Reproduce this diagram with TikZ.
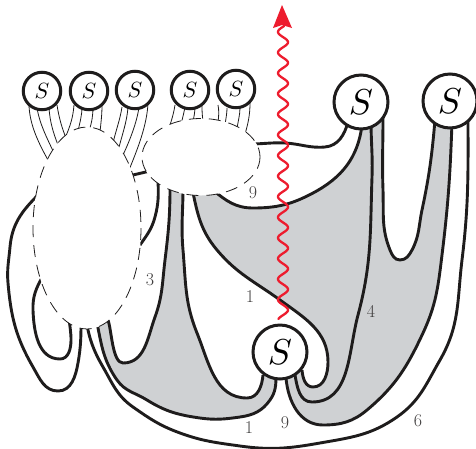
\documentclass[tikz,border=0pt]{standalone}
\usepackage{graphicx}
\definecolor{gr}{RGB}{207,209,211}
\definecolor{rd}{RGB}{237,28,46}
\definecolor{ink}{RGB}{30,28,28}
\newcommand{\smallS}{\scalebox{2.2}{$S$}}
\newcommand{\bigS}{\scalebox{3.6}{$S$}}
\tikzset{x=1pt,y=-1pt,
 thick line/.style={draw=ink,line width=2.9pt},
 thin line/.style={draw=ink,line width=0.8pt},
 dash ell/.style={draw=ink,fill=white,line width=0.8pt,dash pattern=on 12pt off 8pt},
 sball/.style={circle,draw=ink,fill=white,line width=3pt,inner sep=0pt,outer sep=0pt},
 small ball/.style={sball,minimum size=37.5pt},
 big ball/.style={sball,minimum size=54pt},
 lab/.style={text=ink!85,font=\fontsize{18}{20}\selectfont,inner sep=0pt}}
\def\cA{(192,188) to[out=-78,in=130] (217,250) to[out=-50,in=144] (280,300) to[out=-36,in=90] (328,362) to[out=-90,in=0] (313,387) to[out=180,in=-85] (302,370)}
\def\cB{(362,125) to[out=-97,in=28] (313,193) to[out=-152,in=0] (253,208) to[out=180,in=-40] (213,190)}
\def\cD{(295,375) to[out=-80,in=180] (312,402) to[out=0,in=-105] (358,315) to[out=75,in=-92] (372,177) to[out=88,in=-90] (371,120)}
\def\cU{(383,118) to[out=-90,in=92] (383,190) to[out=-88,in=112] (390,250) to[out=-68,in=180] (400,260) to[out=0,in=-118] (412,250) to[out=62,in=-102] (422,210) to[out=78,in=-95] (435,120)}
\def\cE{(452,122) to[out=-92,in=83] (442,255) to[out=-97,in=65] (423,333) to[out=-115,in=40] (367,410) to[out=-140,in=0] (323,425) to[out=180,in=-85] (286,378)}
\def\cF{(468,112) to[out=-90,in=83] (462,260) to[out=-97,in=60] (440,360) to[out=-120,in=35] (397,417) to[out=-145,in=10] (320,443) to[out=-170,in=-8] (240,446) to[out=172,in=-20] (180,433) to[out=160,in=-35] (133,407) to[out=145,in=-60] (103,367) to[out=120,in=-80] (86,320)}
\def\cG{(170,188) to[out=-90,in=83] (165,260) to[out=-97,in=70] (155,317) to[out=-110,in=0] (123,363) to[out=180,in=-70,looseness=.6] (108,320)}
\def\cH{(96,318) to[out=-78,in=125] (117,380) to[out=-55,in=148] (147,400) to[out=-32,in=172] (200,418) to[out=-8,in=188] (240,417) to[out=8,in=235] (270,400) to[out=55,in=-90] (276,375)}
\def\cI{(263,375) to[out=-95,in=0] (247,398) to[out=180,in=-68] (197,333) to[out=112,in=-85] (183,250) to[out=95,in=-90] (183,188)}
\newcommand{\greyfill}[1]{\edef\tmpdo{\noexpand\fill[gr] #1 -- cycle;}\tmpdo}
\newcommand{\curve}[1]{\edef\tmpdo{\noexpand\draw[thick line] #1;}\tmpdo}
\begin{document}
\begin{tikzpicture}
\useasboundingbox (0,0) rectangle (476,448);
% grey regions
\greyfill{\cA -- \cD -- \cB}
\greyfill{\cU -- \cE -- \cD}
\greyfill{\cG -- \cH -- \cI}
% thick curves
\curve{\cA}
\curve{\cB}
\curve{\cD}
\curve{\cU}
\curve{\cE}
\curve{\cF}
\curve{\cG}
\curve{\cH}
\curve{\cI}
\draw[thick line] (158,180) to[out=-88,in=75] (155,217) to[out=-105,in=55] (140,245);
\draw[thick line] (133,175) -- (150,171);
\draw[thick line] (250,144) to[out=0,in=177] (285,143) to[out=-3,in=185] (325,147) to[out=5,in=-105] (348,122);
\draw[thick line] (38,195) to[out=-135,in=85] (10,247) to[out=-95,in=95] (8,283) to[out=-85,in=120] (33,367) to[out=-60,in=180] (58,391) to[out=0,in=-100] (78,363) to[out=80,in=-90] (81,320);
\draw[thick line] (43,276) to[out=-120,in=92] (33,310) to[out=-88,in=180] (60,359) to[out=0,in=-90] (71,340) to[out=90,in=-85] (69,318);
% thin lines from small balls
\draw[thin line] (29,106) .. controls (30,125) and (38,142) .. (48,160);
\draw[thin line] (37,108) .. controls (40,125) and (47,138) .. (54,153);
\draw[thin line] (49,108) .. controls (50,122) and (53,132) .. (58,145);
\draw[thin line] (57,105) .. controls (59,118) and (62,128) .. (66,138);
\draw[thin line] (74,105) .. controls (73,118) and (70,126) .. (66,136);
\draw[thin line] (82,107) .. controls (82,115) and (80,122) .. (78,131);
\draw[thin line] (93,107) .. controls (93,115) and (92,122) .. (89,131);
\draw[thin line] (102,105) .. controls (102,115) and (101,122) .. (100,132);
\draw[thin line] (122,107) .. controls (120,120) and (116,130) .. (113,143);
\draw[thin line] (128,107) .. controls (127,122) and (122,135) .. (118,151);
\draw[thin line] (139,107) .. controls (137,122) and (130,140) .. (123,155);
\draw[thin line] (148,103) .. controls (147,125) and (138,148) .. (129,170);
\draw[thin line] (175,105) .. controls (174,112) and (172,119) .. (169,128);
\draw[thin line] (185,107) .. controls (184,112) and (183,117) .. (181,124);
\draw[thin line] (195,107) .. controls (195,112) and (194,116) .. (193,122);
\draw[thin line] (202,103) .. controls (202,110) and (202,114) .. (203,121);
\draw[thin line] (218,105) .. controls (219,110) and (219,115) .. (218,122);
\draw[thin line] (227,108) .. controls (227,113) and (226,118) .. (225,125);
\draw[thin line] (240,108) .. controls (240,115) and (238,121) .. (237,129);
\draw[thin line] (250,103) .. controls (250,115) and (248,124) .. (245,134);
% dashed ellipses
\draw[dash ell] (87,228) ellipse (54 and 101);
\draw[dash ell] (201,157) ellipse (59 and 38.5);
% balls
\node[small ball] (s1) at (42,91) {\smallS};
\node[small ball] (s2) at (89,91) {\smallS};
\node[small ball] (s3) at (135,90) {\smallS};
\node[small ball] (s4) at (190,90) {\smallS};
\node[small ball] (s5) at (236,89) {\smallS};
\node[big ball] (s6) at (361,102) {\bigS};
\node[big ball] (s7) at (450,101) {\bigS};
\node[big ball] (s8) at (280,352) {\bigS};
% labels
\node[lab] (l1) at (253,193) {9};
\node[lab] (l2) at (150,280) {3};
\node[lab] (l3) at (250,297) {1};
\node[lab] (l4) at (371,311) {4};
\node[lab] (l5) at (249,428) {1};
\node[lab] (l6) at (285,423) {9};
\node[lab] (l7) at (418,421) {6};
% red wavy arrow
\draw[rd,line width=2.3pt,line cap=round] plot[domain=319:26,samples=320,smooth] ({283+5*cos((\x-310)/20.6*360)},\x);
\fill[rd] (282,5) -- (292,28) -- (282,25) -- (273,28) -- cycle;
\end{tikzpicture}
\end{document}
